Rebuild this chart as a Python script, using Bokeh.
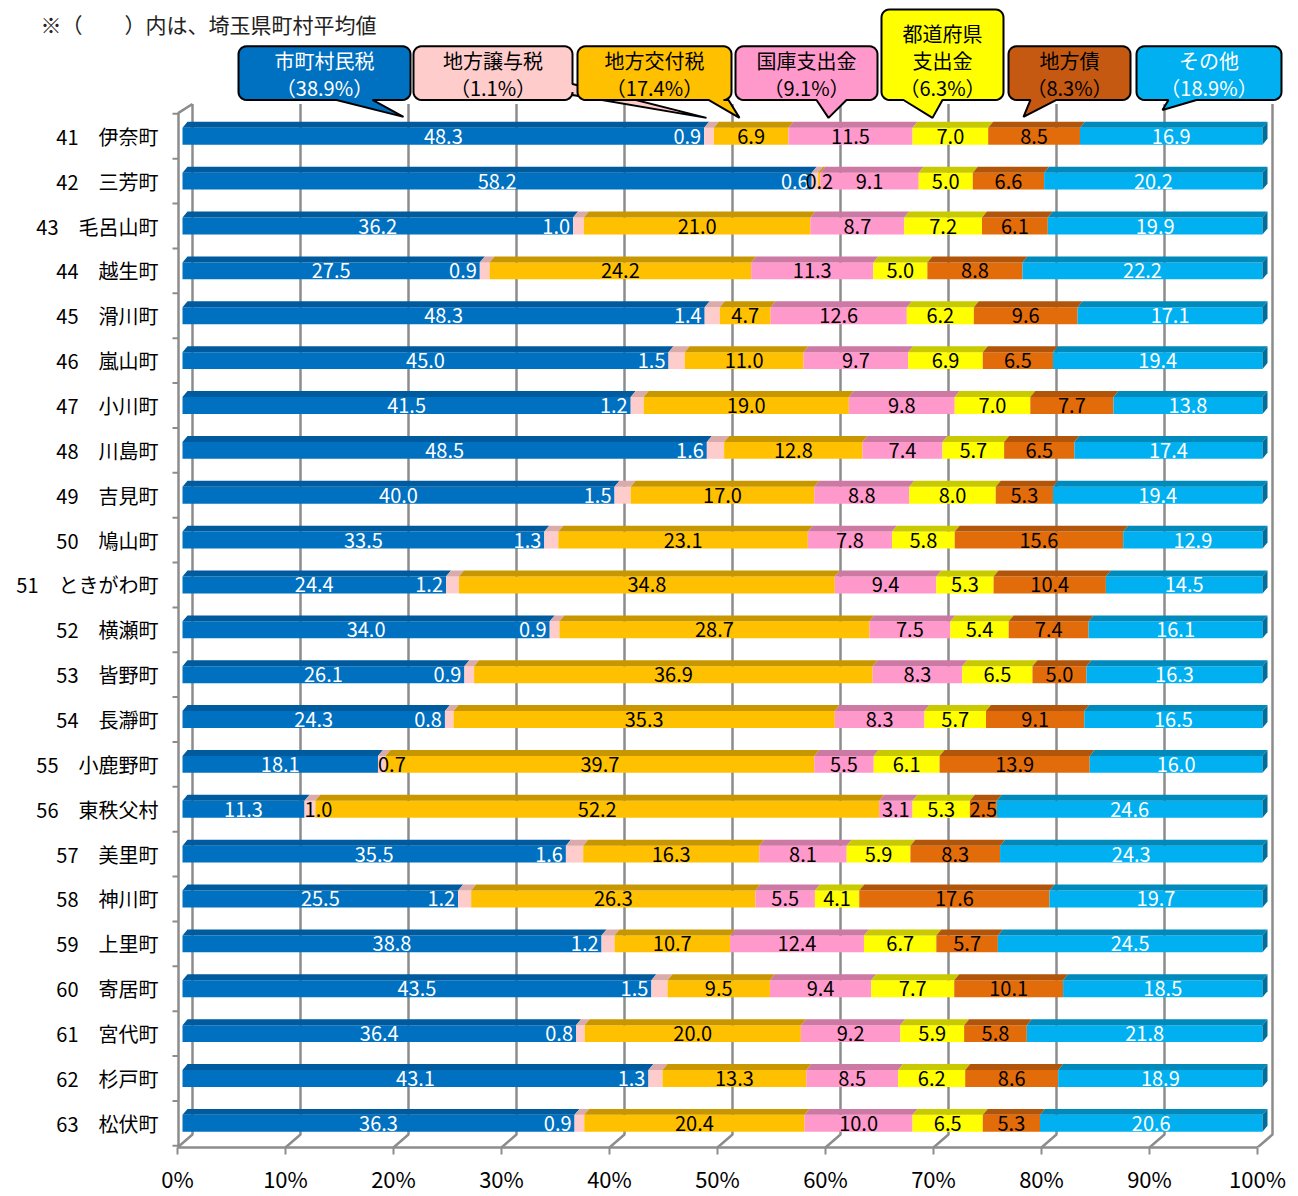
import numpy as np
from bokeh.plotting import figure
from bokeh.models import Range1d, FixedTicker, ColumnDataSource
from bokeh.core.properties import value
from bokeh.embed import file_html
from bokeh.resources import INLINE

FONT = "Noto Sans CJK JP"

# ------------------------------------------------------------------ data
towns = ["41\u3000伊奈町", "42\u3000三芳町", "43\u3000毛呂山町", "44\u3000越生町", "45\u3000滑川町",
         "46\u3000嵐山町", "47\u3000小川町", "48\u3000川島町", "49\u3000吉見町", "50\u3000鳩山町",
         "51\u3000ときがわ町", "52\u3000横瀬町", "53\u3000皆野町", "54\u3000長瀞町", "55\u3000小鹿野町",
         "56\u3000東秩父村", "57\u3000美里町", "58\u3000神川町", "59\u3000上里町", "60\u3000寄居町",
         "61\u3000宮代町", "62\u3000杉戸町", "63\u3000松伏町"]

categories = ["市町村民税", "地方譲与税", "地方交付税", "国庫支出金", "都道府県支出金", "地方債", "その他"]
average_share = [38.9, 1.1, 17.4, 9.1, 6.3, 8.3, 18.9]

shichoson = [48.3, 58.2, 36.2, 27.5, 48.3, 45.0, 41.5, 48.5, 40.0, 33.5, 24.4, 34.0,
             26.1, 24.3, 18.1, 11.3, 35.5, 25.5, 38.8, 43.5, 36.4, 43.1, 36.3]
jouyo = [0.9, 0.6, 1.0, 0.9, 1.4, 1.5, 1.2, 1.6, 1.5, 1.3, 1.2, 0.9,
         0.9, 0.8, 0.7, 1.0, 1.6, 1.2, 1.2, 1.5, 0.8, 1.3, 0.9]
koufu = [6.9, 0.2, 21.0, 24.2, 4.7, 11.0, 19.0, 12.8, 17.0, 23.1, 34.8, 28.7,
         36.9, 35.3, 39.7, 52.2, 16.3, 26.3, 10.7, 9.5, 20.0, 13.3, 20.4]
kokko = [11.5, 9.1, 8.7, 11.3, 12.6, 9.7, 9.8, 7.4, 8.8, 7.8, 9.4, 7.5,
         8.3, 8.3, 5.5, 3.1, 8.1, 5.5, 12.4, 9.4, 9.2, 8.5, 10.0]
todofuken = [7.0, 5.0, 7.2, 5.0, 6.2, 6.9, 7.0, 5.7, 8.0, 5.8, 5.3, 5.4,
             6.5, 5.7, 6.1, 5.3, 5.9, 4.1, 6.7, 7.7, 5.9, 6.2, 6.5]
chihousai = [8.5, 6.6, 6.1, 8.8, 9.6, 6.5, 7.7, 6.5, 5.3, 15.6, 10.4, 7.4,
             5.0, 9.1, 13.9, 2.5, 8.3, 17.6, 5.7, 10.1, 5.8, 8.6, 5.3]
sonota = [16.9, 20.2, 19.9, 22.2, 17.1, 19.4, 13.8, 17.4, 19.4, 12.9, 14.5, 16.1,
          16.3, 16.5, 16.0, 24.6, 24.3, 19.7, 24.5, 18.5, 21.8, 18.9, 20.6]

tick_values = [0, 10, 20, 30, 40, 50, 60, 70, 80, 90, 100]
tick_labels = ["0%", "10%", "20%", "30%", "40%", "50%", "60%", "70%", "80%", "90%", "100%"]

note_text = "※（\u3000\u3000）内は、埼玉県町村平均値"

# ------------------------------------------------------------------ style
bar_colors = ["#0070C0", "#FFCCCC", "#FFC000", "#FF99CC", "#FFFF00", "#E36C0A", "#00B0F0"]
top_colors = ["#005A9E", "#D9ABAB", "#C89700", "#CC79A3", "#C9C900", "#B0550A", "#0089BB"]
end_color = "#006E99"
label_colors = ["white", "white", "black", "black", "black", "black", "white"]
callout_fill = ["#0070C0", "#FFCCCC", "#FFC000", "#FF99CC", "#FFFF00", "#C65911", "#00B0F0"]
callout_txt = ["white", "black", "black", "black", "black", "black", "white"]
# callout layout in page pixels: x0, y0, x1, y1, pointer side, base a, base b, tip x, tip y
callout_layout = [
    (238, 46, 410, 100, "bottom", 336, 372, 403, 117),
    (413, 46, 572, 100, "right", 84, 95, 706, 118),
    (577, 46, 731, 100, "bottom", 708, 728, 739, 118),
    (735, 46, 877, 100, "bottom", 816, 846, 828, 118),
    (881, 9, 1003, 100, "bottom", 903, 942, 932, 118),
    (1008, 46, 1130, 100, "bottom", 1030, 1056, 1023, 117),
    (1136, 46, 1281, 100, "bottom", 1168, 1196, 1162, 110),
]
GRID = "#8c8c8c"
W, H = 1298, 1196
FRAME_BOTTOM = 1153

# page pixel -> data coordinate helpers (layout only)
X0, XS = 182.0, 10.8
Y0, YS = 136.5, 45.1
def dx(px):
    return (px - X0) / XS
def dy(py):
    return (py - Y0) / YS

BACK = 10 / XS     # depth offset of the back wall
FRONT = -5 / XS    # depth offset of the front edge
TOP_DX = 5 / XS    # 3D top face offset
TOP_DY = 6 / YS
BAR_H = 17 / YS

p = figure(width=W, height=H,
           x_range=Range1d(dx(0), dx(W)), y_range=Range1d(dy(FRAME_BOTTOM), dy(0)),
           output_backend="svg", toolbar_location=None, y_axis_location=None,
           min_border_left=0, min_border_right=0, min_border_top=0,
           min_border_bottom=H - FRAME_BOTTOM)
p.outline_line_color = None
p.xgrid.visible = False
p.ygrid.visible = False
p.background_fill_color = "white"
p.border_fill_color = "white"

rows = np.arange(len(towns), dtype=float)

# ------------------------------------------------------------------ walls / gridlines
gx = [[t + BACK, t + BACK, t + FRONT] for t in tick_values]
gy = [[dy(104), dy(1140), dy(1153)] for t in tick_values]
p.multi_line(gx, gy, line_color=GRID, line_width=2.5)
p.line([dx(178), dx(178), BACK], [dy(1153), dy(113), dy(104)], line_color=GRID, line_width=2.5)
bounds_y = [i - 0.5 for i in range(len(towns) + 1)]
p.segment(x0=[dx(172)] * len(bounds_y), x1=[dx(178)] * len(bounds_y), y0=bounds_y, y1=bounds_y,
          line_color=GRID, line_width=2)

# ------------------------------------------------------------------ category labels
p.text(x=[dx(158)] * len(towns), y=rows, text=towns, text_align="right", text_baseline="middle",
       text_font=value(FONT), text_font_size="20px", text_color="black")

# ------------------------------------------------------------------ bars
vals = np.array([shichoson, jouyo, koufu, kokko, todofuken, chihousai, sonota])
totals = vals.sum(axis=0)
share = vals / totals * 100.0
rights = np.cumsum(share, axis=0)
lefts = rights - share

for k in range(len(categories)):
    src = ColumnDataSource(dict(y=rows, left=lefts[k], right=rights[k]))
    p.hbar(y="y", left="left", right="right", height=BAR_H, source=src,
           fill_color=bar_colors[k], line_color=None)
    yt = rows - BAR_H / 2
    xs = [[l, r, r + TOP_DX, l + TOP_DX] for l, r in zip(lefts[k], rights[k])]
    ys = [[a, a, a - TOP_DY, a - TOP_DY] for a in yt]
    p.patches(xs, ys, fill_color=top_colors[k], line_color=None)

last = len(categories) - 1
exs = [[r, r + TOP_DX, r + TOP_DX, r] for r in rights[last]]
eys = [[y - BAR_H / 2, y - BAR_H / 2 - TOP_DY, y + BAR_H / 2 - TOP_DY, y + BAR_H / 2] for y in rows]
p.patches(exs, eys, fill_color=end_color, line_color=None)

# ------------------------------------------------------------------ value labels
LBL = dict(text_font=value(FONT), text_font_size="20px", text_baseline="middle")
for k in range(len(categories)):
    txt = [f"{v:.1f}" for v in vals[k]]
    if k == 1:
        inner = [i for i in range(len(rows)) if shichoson[i] >= 20]
        outer = [i for i in range(len(rows)) if shichoson[i] < 20]
        p.text(x=[lefts[k][i] for i in inner], y=[rows[i] for i in inner],
               text=[txt[i] for i in inner], text_align="right", x_offset=-3,
               text_color="white", **LBL)
        p.text(x=[lefts[k][i] for i in outer], y=[rows[i] for i in outer],
               text=[txt[i] for i in outer], text_align="left", x_offset=0,
               text_color="black", **LBL)
    else:
        cx = (lefts[k] + rights[k]) / 2
        p.text(x=cx, y=rows, text=txt, text_align="center",
               text_color=label_colors[k], **LBL)

# ------------------------------------------------------------------ callouts
def callout_points(x0, y0, x1, y1, side, a, b, tx, ty, r=8):
    pts = []
    def arc(cx, cy, a0, a1):
        for ang in np.linspace(a0, a1, 7):
            pts.append((cx + r * np.cos(ang), cy + r * np.sin(ang)))
    arc(x0 + r, y0 + r, np.pi, 1.5 * np.pi)
    arc(x1 - r, y0 + r, 1.5 * np.pi, 2 * np.pi)
    if side == "right":
        pts.extend([(x1, a), (tx, ty), (x1, b)])
    arc(x1 - r, y1 - r, 0, 0.5 * np.pi)
    if side == "bottom":
        pts.extend([(b, y1), (tx, ty), (a, y1)])
    arc(x0 + r, y1 - r, 0.5 * np.pi, np.pi)
    return pts

for k, name in enumerate(categories):
    x0, y0, x1, y1, side, a, b, tx, ty = callout_layout[k]
    pts = callout_points(x0, y0, x1, y1, side, a, b, tx, ty)
    p.patch([dx(q[0]) for q in pts], [dy(q[1]) for q in pts],
            fill_color=callout_fill[k], line_color="black", line_width=2)
    lines = [name] if len(name) <= 5 else [name[:4], name[4:]]
    lines.append(f"（{average_share[k]:.1f}%）")
    n = len(lines)
    cx = (x0 + x1) / 2
    ys_px = [y1 - 13 - 27 * (n - 1 - j) for j in range(n)]
    p.text(x=[dx(cx)] * n, y=[dy(v) for v in ys_px], text=lines,
           text_align="center", text_baseline="middle", text_color=callout_txt[k],
           text_font=value(FONT), text_font_size="20px")

# ------------------------------------------------------------------ note
p.text(x=[dx(40)], y=[dy(24)], text=[note_text], text_align="left", text_baseline="middle",
       text_font=value(FONT), text_font_size="21px", text_color="#222222")

# ------------------------------------------------------------------ x axis
xt = [t + FRONT for t in tick_values]
p.xaxis.ticker = FixedTicker(ticks=xt)
p.xaxis.major_label_overrides = {t: lab for t, lab in zip(xt, tick_labels)}
p.xaxis.bounds = (xt[0], xt[-1])
p.xaxis.axis_line_color = GRID
p.xaxis.axis_line_width = 2.5
p.xaxis.major_tick_line_color = GRID
p.xaxis.major_tick_line_width = 2
p.xaxis.major_tick_in = 0
p.xaxis.major_tick_out = 7
p.xaxis.minor_tick_line_color = None
p.xaxis.major_label_standoff = 7
p.xaxis.major_label_text_font = FONT
p.xaxis.major_label_text_font_size = "22px"
p.xaxis.major_label_text_color = "black"

open("out.html", "w").write(file_html(p, INLINE))
